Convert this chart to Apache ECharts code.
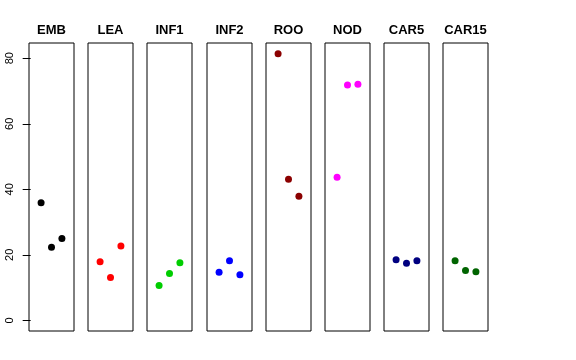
<!DOCTYPE html>
<html><head><meta charset="utf-8">
<script src="https://cdn.jsdelivr.net/npm/echarts@6/dist/echarts.min.js"></script>
<style>html,body{margin:0;padding:0;background:#fff}#c{width:576px;height:360px}</style>
</head><body><div id="c"></div>
<script>
var categories = ['EMB','LEA','INF1','INF2','ROO','NOD','CAR5','CAR15'];
var colors = ['#000000','#FF0000','#00CD00','#0000FF','#8B0000','#FF00FF','#000080','#006400'];
var valuesEMB = [35.9, 22.3, 25.0];
var valuesLEA = [17.9, 13.1, 22.7];
var valuesINF1 = [10.6, 14.3, 17.6];
var valuesINF2 = [14.7, 18.2, 13.9];
var valuesROO = [81.4, 43.1, 37.9];
var valuesNOD = [43.7, 71.8, 72.1];
var valuesCAR5 = [18.5, 17.4, 18.2];
var valuesCAR15 = [18.2, 15.2, 14.8];
var yTicks = [0, 20, 40, 60, 80];

var allValues = [valuesEMB, valuesLEA, valuesINF1, valuesINF2, valuesROO, valuesNOD, valuesCAR5, valuesCAR15];
var font = '"Liberation Sans", Arial, Helvetica, sans-serif';
var ymaxData = Math.max.apply(null, allValues.map(function(a){return Math.max.apply(null,a);}));
var ext = 0.04 * ymaxData;
var yMin = -ext, yMax = ymaxData + ext;

var grids = [], xAxes = [], yAxes = [], series = [], graphics = [];
for (var i = 0; i < categories.length; i++) {
  var left = Math.round(29 + 59.2 * i);
  grids.push({left: left, top: 43, width: 45, height: 288, show: true, borderColor: '#000', borderWidth: 1, backgroundColor: 'transparent'});
  xAxes.push({type: 'value', gridIndex: i, min: -0.16, max: 4.16, show: false});
  yAxes.push({
    type: 'value', gridIndex: i, min: yMin, max: yMax,
    show: i === 0,
    splitLine: {show: false},
    axisLine: {show: false},
    axisTick: {show: true, length: 8, lineStyle: {color: '#000'}, customValues: yTicks},
    axisLabel: {show: true, rotate: 90, margin: 14, fontSize: 11, color: '#000', fontFamily: font, customValues: yTicks}
  });
  series.push({
    type: 'scatter', xAxisIndex: i, yAxisIndex: i,
    symbolSize: 7, itemStyle: {color: colors[i], opacity: 1},
    data: allValues[i].map(function(v, j){ return [j + 1, v]; }),
    silent: true
  });
  graphics.push({type: 'text', x: left + 22.5, y: 30, style: {text: categories[i], textAlign: 'center', textVerticalAlign: 'middle', font: 'bold 13px ' + font, fill: '#000'}});
}

var chart = echarts.init(document.getElementById('c'), null, {renderer: 'canvas'});
chart.setOption({
  animation: false,
  grid: grids, xAxis: xAxes, yAxis: yAxes, series: series, graphic: graphics
});
</script></body></html>
